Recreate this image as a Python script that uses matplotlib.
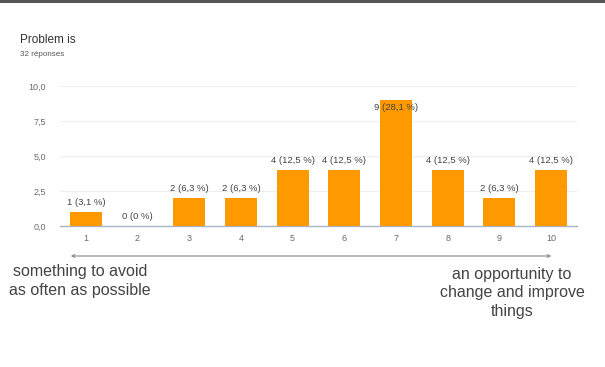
import matplotlib
matplotlib.use("Agg")
import matplotlib.pyplot as plt
from matplotlib.patches import Rectangle, FancyArrowPatch

categories = ["1", "2", "3", "4", "5", "6", "7", "8", "9", "10"]
counts = [1, 0, 2, 2, 4, 4, 9, 4, 2, 4]
percents = ["3,1", "0", "6,3", "6,3", "12,5", "12,5", "28,1", "12,5", "6,3", "12,5"]
yticks = [0.0, 2.5, 5.0, 7.5, 10.0]
ytick_labels = ["0,0", "2,5", "5,0", "7,5", "10,0"]

title = "Problem is"
subtitle = "32 réponses"
left_caption = "something to avoid\nas often as possible"
right_caption = "an opportunity to\nchange and improve\nthings"

plt.rcParams["font.family"] = ["Liberation Sans", "DejaVu Sans"]

W, H = 605, 367
fig = plt.figure(figsize=(W / 100, H / 100), dpi=100)
fig.patch.set_facecolor("white")

# dark strip along the top edge
fig.patches.append(Rectangle((0, 1 - 3 / H), 1, 3 / H, transform=fig.transFigure,
                             facecolor="#555555", edgecolor="none", zorder=5))

ax = fig.add_axes([60 / W, 1 - 226 / H, (577 - 60) / W, (226 - 86) / H])
x = list(range(1, len(categories) + 1))
ax.bar(x, counts, width=0.62, color="#ff9900", zorder=3)
ax.set_xlim(0.5, 10.5)
ax.set_ylim(0, 10)
ax.set_yticks(yticks)
ax.set_yticklabels(ytick_labels)
ax.set_xticks(x)
ax.set_xticklabels(categories)
ax.tick_params(axis="both", length=0, labelsize=6.5, colors="#6a6a6a", pad=6)
ax.tick_params(axis="y", pad=10)
for s in ["top", "right", "left"]:
    ax.spines[s].set_visible(False)
ax.spines["bottom"].set_color("#aab4c8")
ax.spines["bottom"].set_linewidth(1.0)
ax.grid(axis="y", color="#eeeeee", linewidth=0.8, zorder=0)
ax.set_axisbelow(True)

for xi, c, p in zip(x, counts, percents):
    label = f"{c} ({p} %)"
    if c >= 8:
        ax.text(xi, c - 0.55, label, ha="center", va="center", fontsize=6.8, color="#444444", zorder=4)
    else:
        ax.text(xi, c + 0.35, label, ha="center", va="bottom", fontsize=6.8, color="#444444", zorder=4)

fig.text(20 / W, 1 - 40 / H, title, fontsize=8.5, color="#333333", va="center", ha="left")
fig.text(20 / W, 1 - 55 / H, subtitle, fontsize=5.8, color="#555555", va="center", ha="left")

# scale arrow under the axis
fig.add_artist(FancyArrowPatch(
    (68 / W, 1 - 256 / H), (554 / W, 1 - 256 / H), transform=fig.transFigure,
    arrowstyle="<->", mutation_scale=5, color="#888888", linewidth=0.8))

fig.text(80 / W, 1 - 281 / H, left_caption, fontsize=11.5, color="#444444",
         ha="center", va="center", multialignment="center", linespacing=1.28)
fig.text(512 / W, 1 - 293 / H, right_caption, fontsize=11.5, color="#444444",
         ha="center", va="center", multialignment="center", linespacing=1.28)

fig.savefig("out.png", dpi=100, facecolor="white")
